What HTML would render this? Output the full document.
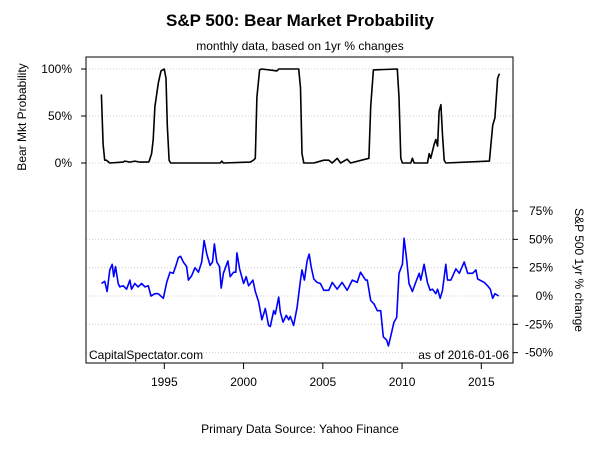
<!DOCTYPE html>
<html><head><meta charset="utf-8"><style>
body{margin:0;background:#fff}
svg{font-family:"Liberation Sans",sans-serif;display:block}
</style></head><body>
<svg id="chart" width="600" height="450">
<text x="300" y="26" text-anchor="middle" font-size="17" font-weight="bold">S&amp;P 500: Bear Market Probability</text>
<text x="300" y="50" text-anchor="middle" font-size="12">monthly data, based on 1yr % changes</text>
<text transform="translate(26,117) rotate(-90)" text-anchor="middle" font-size="12">Bear Mkt Probability</text>
<text transform="translate(575,270) rotate(90)" text-anchor="middle" font-size="12">S&amp;P 500 1yr % change</text>
<text x="300" y="433" text-anchor="middle" font-size="12">Primary Data Source: Yahoo Finance</text>
<g id="grid"></g>
<g id="axes"></g>
<g id="series"></g>
<rect x="86" y="57" width="427" height="306" fill="none" stroke="#000" stroke-width="1"/>
<text x="89" y="359" font-size="12">CapitalSpectator.com</text>
<text x="509" y="359" text-anchor="end" font-size="12">as of  2016-01-06</text>
</svg>
<script>
const xTicks=[1995,2000,2005,2010,2015];
const probTicks=[0,50,100];
const probTickLabels=["0%","50%","100%"];
const retTicks=[-50,-25,0,25,50,75];
const retTickLabels=["-50%","-25%","0%","25%","50%","75%"];
const probDates=[1991.03,1991.14,1991.24,1991.35,1991.56,1992.41,1992.51,1992.83,1993.14,1993.46,1993.99,1994.05,1994.2,1994.3,1994.41,1994.62,1994.79,1995.0,1995.11,1995.19,1995.3,1995.4,1998.52,1998.63,1998.73,2000.42,2000.63,2000.74,2000.84,2001.01,2001.16,2002.11,2002.22,2003.48,2003.59,2003.69,2003.8,2004.43,2005.06,2005.38,2005.59,2005.91,2006.12,2006.54,2006.75,2007.91,2008.02,2008.19,2009.7,2009.81,2009.92,2010.02,2010.55,2010.65,2010.76,2011.6,2011.71,2011.81,2012.03,2012.13,2012.24,2012.34,2012.45,2012.55,2012.66,2012.76,2015.51,2015.72,2015.86,2016.03,2016.14];
const probValues=[73,20,3,3,0,1,2,1,2,1,1,2,10,25,60,85,98,100,90,40,3,0,0,2,0,1,3,5,70,99,100,98,100,100,80,10,0,0,3,3,0,5,0,4,0,5,60,99,100,70,5,0,0,5,0,0,10,5,20,25,18,55,62,30,3,0,2,40,48,90,95];
const retDates=[1991.03,1991.24,1991.39,1991.56,1991.71,1991.81,1991.92,1992.09,1992.19,1992.41,1992.62,1992.83,1992.93,1993.14,1993.35,1993.57,1993.78,1993.99,1994.16,1994.41,1994.62,1994.94,1995.15,1995.36,1995.57,1995.74,1995.89,1996.03,1996.20,1996.41,1996.52,1996.73,1996.94,1997.15,1997.36,1997.51,1997.68,1997.89,1998.04,1998.16,1998.31,1998.48,1998.59,1998.73,1999.01,1999.16,1999.37,1999.51,1999.58,1999.75,2000.00,2000.17,2000.32,2000.59,2000.74,2000.95,2001.16,2001.37,2001.58,2001.69,2001.90,2002.00,2002.22,2002.32,2002.49,2002.70,2002.85,2002.95,2003.16,2003.38,2003.59,2003.69,2003.84,2004.01,2004.14,2004.26,2004.43,2004.64,2004.85,2005.06,2005.38,2005.59,2005.91,2006.22,2006.54,2006.86,2007.17,2007.38,2007.70,2007.81,2008.02,2008.23,2008.44,2008.65,2008.82,2009.03,2009.14,2009.28,2009.49,2009.66,2009.81,2010.02,2010.13,2010.30,2010.44,2010.65,2010.86,2011.08,2011.18,2011.39,2011.60,2011.77,2011.92,2012.13,2012.24,2012.41,2012.55,2012.76,2012.87,2013.08,2013.40,2013.61,2013.92,2014.14,2014.45,2014.66,2014.77,2015.19,2015.40,2015.57,2015.72,2015.86,2016.10];
const retValues=[11,13,4,23,28,17,26,11,8,9,6,14,6,11,8,11,8,9,0,2,2,-2,12,21,20,27,34,35,30,26,14,18,25,21,30,49,37,27,30,46,30,26,7,20,31,17,21,21,38,24,11,17,9,14,4,-5,-21,-11,-26,-27,-13,-16,-1,-14,-23,-17,-21,-18,-26,-10,14,23,14,31,37,26,15,12,11,5,5,12,6,12,5,14,12,21,14,14,-4,-7,-13,-13,-36,-39,-44,-36,-23,-19,20,28,51,31,11,4,12,20,14,28,12,5,6,2,6,-2,5,28,14,14,24,20,30,20,20,23,15,12,9,6,-2,2,0];

const NS="http://www.w3.org/2000/svg";
const L=86,R=513;
const xs=y=>164.3+(y-1995)*15.85;
const yProb=v=>163-v*0.94;
const yRet=v=>296-v*1.133;
function mk(tag,attrs,parent){const e=document.createElementNS(NS,tag);for(const k in attrs)e.setAttribute(k,attrs[k]);parent.appendChild(e);return e;}
const grid=document.getElementById('grid'),axes=document.getElementById('axes'),series=document.getElementById('series');
probTicks.forEach((t,i)=>{
  const y=yProb(t);
  const g=mk('line',{x1:L,x2:R,y1:y,y2:y,stroke:'#ccc','stroke-dasharray':'1,2'},grid);
  
  
  const tk=mk('line',{x1:L-5,x2:L,y1:y,y2:y,stroke:'#000'},axes);
  
  
  const tx=mk('text',{x:L-14,y:y+4,'text-anchor':'end','font-size':12},axes);
  tx.textContent=probTickLabels[i];
  
  
});
retTicks.forEach((t,i)=>{
  const y=yRet(t);
  const g=mk('line',{x1:L,x2:R,y1:y,y2:y,stroke:'#ccc','stroke-dasharray':'1,2'},grid);
  
  
  const tk=mk('line',{x1:R,x2:R+5,y1:y,y2:y,stroke:'#000'},axes);
  
  
  const tx=mk('text',{x:R+40,y:y+4,'text-anchor':'end','font-size':12},axes);
  tx.textContent=retTickLabels[i];
  
  
});
xTicks.forEach(t=>{
  const x=xs(t);
  const tk=mk('line',{x1:x,x2:x,y1:363,y2:369,stroke:'#000'},axes);
  
  
  const tx=mk('text',{x:x,y:386,'text-anchor':'middle','font-size':12},axes);
  tx.textContent=String(t);
  
  
});
const pp=mk('polyline',{points:probDates.map((d,i)=>xs(d).toFixed(1)+','+yProb(probValues[i]).toFixed(1)).join(' '),fill:'none',stroke:'#000','stroke-width':1.6,'stroke-linejoin':'round'},series);


const rp=mk('polyline',{points:retDates.map((d,i)=>xs(d).toFixed(1)+','+yRet(retValues[i]).toFixed(1)).join(' '),fill:'none',stroke:'#0000ff','stroke-width':1.6,'stroke-linejoin':'round'},series);


</script>
</body></html>
